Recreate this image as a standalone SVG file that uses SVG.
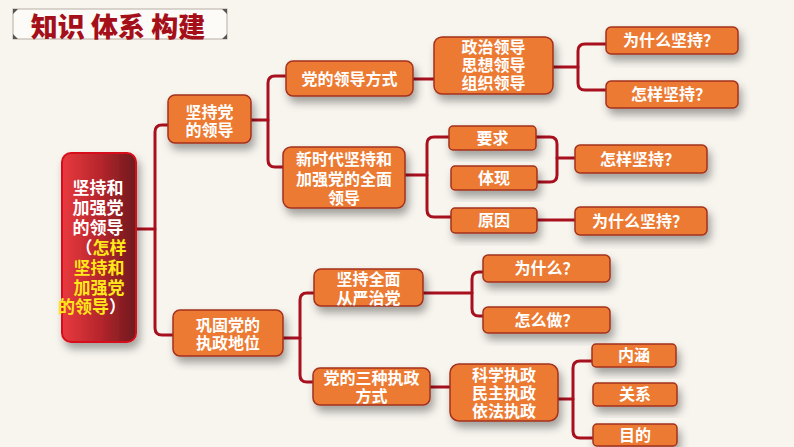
<svg xmlns="http://www.w3.org/2000/svg" width="794" height="447" viewBox="0 0 794 447">
<defs>
<linearGradient id="mainGrad" x1="0" y1="0" x2="1" y2="0">
<stop offset="0" stop-color="#E83A3E"/>
<stop offset="0.5" stop-color="#B8262C"/>
<stop offset="1" stop-color="#6E1A1E"/>
</linearGradient>
<filter id="shadow" x="-20%" y="-30%" width="150%" height="180%">
<feDropShadow dx="3" dy="6" stdDeviation="4" flood-color="#000" flood-opacity="0.35"/>
</filter>
<style>
.box{fill:#EC7A30;stroke:#A3301E;stroke-width:1.5;filter:url(#shadow)}
.t{fill:#fff;font-family:"Liberation Sans","Noto Sans CJK SC",sans-serif;font-weight:bold;font-size:16px;text-anchor:middle;dominant-baseline:central}
.mt{fill:#fff;font-family:"Liberation Sans","Noto Sans CJK SC",sans-serif;font-weight:bold;font-size:17px;text-anchor:middle;dominant-baseline:central}
.y{fill:#FFE81A}
.c{fill:none;stroke:#A8101E;stroke-width:3;stroke-linecap:round;stroke-linejoin:round}
</style>
</defs>
<rect x="0" y="0" width="794" height="447" fill="#F8F5EF"/>

<g id="title">
<rect x="13" y="9" width="214" height="30" fill="#FDFBF7" stroke="#B5AEA5" stroke-width="1"/>
<path d="M13,9 h5 l-5,5 z M227,9 h-5 l5,5 z M13,39 h5 l-5,-5 z M227,39 h-5 l5,-5 z" fill="#555"/>
<text x="118" y="25" font-family="'Noto Sans CJK SC',sans-serif" font-weight="900" font-size="27" fill="#A50F1A" text-anchor="middle" dominant-baseline="central">知识 体系 构建</text>
</g>

<g id="connectors">
<path class="c" d="M136,229 H155"/>
<path class="c" d="M168,125 H162 Q155,125 155,132 V328 Q155,335 162,335 H173"/>
<path class="c" d="M251,120 H268"/>
<path class="c" d="M286,76 H275 Q268,76 268,83 V160 Q268,167 275,167 H283"/>
<path class="c" d="M413,79 H434"/>
<path class="c" d="M553,67 H578"/>
<path class="c" d="M606,44 H585 Q578,44 578,51 V83 Q578,90 585,90 H606"/>
<path class="c" d="M405,175 H427"/>
<path class="c" d="M449,137 H434 Q427,137 427,144 V210 Q427,217 434,217 H451"/>
<path class="c" d="M536,137 H550 Q557,137 557,144 V175 Q557,182 550,182 H537"/>
<path class="c" d="M557,158 H575"/>
<path class="c" d="M537,220 H575"/>
<path class="c" d="M283,338 H300"/>
<path class="c" d="M314,293 H307 Q300,293 300,300 V375 Q300,382 307,382 H313"/>
<path class="c" d="M423,293 H472"/>
<path class="c" d="M483,272 H479 Q472,272 472,279 V309 Q472,316 479,316 H483"/>
<path class="c" d="M430,387 H450"/>
<path class="c" d="M558,399 H573"/>
<path class="c" d="M592,361 H580 Q573,361 573,368 V431 Q573,438 580,438 H593"/>
</g>

<g id="main">
<rect x="62" y="153" width="74" height="189" rx="9" fill="url(#mainGrad)" stroke="#D8101A" stroke-width="2" filter="url(#shadow)"/>
<text class="mt" x="98" y="188">坚持和<tspan x="98" dy="20">加强党</tspan><tspan x="98" dy="20">的领导</tspan><tspan x="101" dy="20">（<tspan class="y">怎样</tspan></tspan><tspan class="y" x="99" dy="20">坚持和</tspan><tspan class="y" x="99" dy="19.5">加强党</tspan><tspan x="92" dy="19.5"><tspan class="y">的领导</tspan>）</tspan></text>
</g>

<g id="n-jianchi">
<rect class="box" x="168" y="95" width="83" height="48" rx="7"/>
<text class="t" x="209.5" y="112">坚持党<tspan x="209.5" dy="18">的领导</tspan></text>
</g>

<g id="n-gonggu">
<rect class="box" x="173" y="310" width="110" height="46" rx="7"/>
<text class="t" x="228" y="325">巩固党的<tspan x="228" dy="18">执政地位</tspan></text>
</g>

<g id="n-fangshi">
<rect class="box" x="286" y="61" width="127" height="35" rx="7"/>
<text class="t" x="349.5" y="79">党的领导方式</text>
</g>

<g id="n-xinshidai">
<rect class="box" x="283" y="147" width="122" height="61" rx="8"/>
<text class="t" x="344" y="159">新时代坚持和<tspan x="344" dy="20">加强党的全面</tspan><tspan x="344" dy="19">领导</tspan></text>
</g>

<g id="n-zhengzhi">
<rect class="box" x="434" y="37" width="119" height="57" rx="8"/>
<text class="t" x="493.5" y="47">政治领导<tspan x="493.5" dy="18">思想领导</tspan><tspan x="493.5" dy="18">组织领导</tspan></text>
</g>

<g id="n-why1">
<rect class="box" x="606" y="27" width="132" height="27" rx="5"/>
<text class="t" x="671" y="40.5">为什么坚持？</text>
</g>

<g id="n-how1">
<rect class="box" x="606" y="81" width="132" height="27" rx="5"/>
<text class="t" x="671" y="94.5">怎样坚持？</text>
</g>

<g id="n-yaoqiu">
<rect class="box" x="449" y="126" width="87" height="24" rx="4"/>
<text class="t" x="492.5" y="138">要求</text>
</g>

<g id="n-tixian">
<rect class="box" x="451" y="166" width="86" height="24" rx="4"/>
<text class="t" x="494" y="178">体现</text>
</g>

<g id="n-yuanyin">
<rect class="box" x="451" y="208" width="86" height="25" rx="4"/>
<text class="t" x="494" y="220.5">原因</text>
</g>

<g id="n-how2">
<rect class="box" x="575" y="145" width="132" height="28" rx="5"/>
<text class="t" x="640" y="159">怎样坚持？</text>
</g>

<g id="n-why2">
<rect class="box" x="575" y="207" width="132" height="28" rx="5"/>
<text class="t" x="640" y="221">为什么坚持？</text>
</g>

<g id="n-congyan">
<rect class="box" x="314" y="269" width="109" height="37" rx="7"/>
<text class="t" x="368.5" y="279.5">坚持全面<tspan x="368.5" dy="18">从严治党</tspan></text>
</g>

<g id="n-sanzhong">
<rect class="box" x="313" y="368" width="117" height="37" rx="7"/>
<text class="t" x="371.5" y="378">党的三种执政<tspan x="371.5" dy="18">方式</tspan></text>
</g>

<g id="n-why3">
<rect class="box" x="483" y="255" width="127" height="27" rx="5"/>
<text class="t" x="546.5" y="268.5">为什么？</text>
</g>

<g id="n-how3">
<rect class="box" x="483" y="307" width="127" height="26" rx="5"/>
<text class="t" x="546.5" y="320">怎么做？</text>
</g>

<g id="n-kexue">
<rect class="box" x="450" y="364" width="108" height="57" rx="9"/>
<text class="t" x="504" y="375">科学执政<tspan x="504" dy="18">民主执政</tspan><tspan x="504" dy="18">依法执政</tspan></text>
</g>

<g id="n-neihan">
<rect class="box" x="592" y="344" width="84" height="23" rx="4"/>
<text class="t" x="634" y="355.5">内涵</text>
</g>

<g id="n-guanxi">
<rect class="box" x="593" y="383" width="84" height="23" rx="4"/>
<text class="t" x="635" y="394.5">关系</text>
</g>

<g id="n-mudi">
<rect class="box" x="593" y="424" width="84" height="22" rx="4"/>
<text class="t" x="635" y="435">目的</text>
</g>
</svg>
